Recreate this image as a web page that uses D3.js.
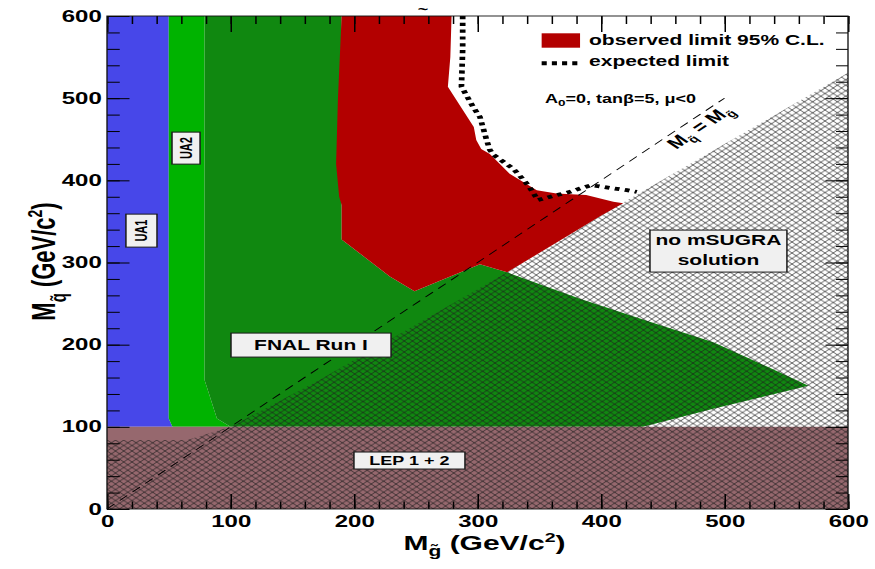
<!DOCTYPE html>
<html>
<head>
<meta charset="utf-8">
<script src="https://cdn.jsdelivr.net/npm/d3@7"></script>
<style>
  html, body { margin: 0; padding: 0; background: #fff; }
  svg { display: block; }
  text { font-family: "Liberation Sans", Arial, Helvetica, sans-serif; font-weight: bold; fill: #000; }
</style>
</head>
<body>
<svg id="chart" width="875" height="569"></svg>
<script>
// ---- axis ticks (GeV/c^2) ----
const xMajorTicks = [0, 100, 200, 300, 400, 500, 600];
const yMajorTicks = [0, 100, 200, 300, 400, 500, 600];
const minorTicks = [0,20,40,60,80,100,120,140,160,180,200,220,240,260,280,300,320,340,360,380,400,420,440,460,480,500,520,540,560,580,600];

// ---- excluded regions, [gluino mass, squark mass] ----
const ua1Region = [[0,600],[50,600],[50,110],[53,100],[0,100]];
const ua2Region = [[50,600],[79,600],[79,157],[89,110],[100,100],[53,100],[50,110]];
const fnalRegion = [[79,600],[190,600],[190,328],[229,283],[249,265],[302,298],[324,288],[383,256],
                    [437,229],[491,203],[545,166],[568,150],[491,122],[434,100],[100,100],[89,110],[79,157]];
const observedRegion = [[190,600],[279,600],[278,550],[276,514],[297,465],[299,449],[303,438],[310,432],
                        [326,408],[337,398],[348,388],[364,384],[388,382],[410,374],[418,372],
                        [399,356],[324,288],[302,298],[249,265],[229,283],[190,328],[190,370],
                        [188,380],[185.5,420],[187,500]];
const lepRegion = [[0,0],[0,100],[600,100],[600,0]];
const noSolutionRegion = [[0,0],[0,84],[65,84],[100,100],[172,157],[324,288],[399,356],[417,372],[600,531],[600,0]];

// ---- expected limit contour ----
const expectedLimit = [[288,600],[288,560],[287,514],[296.6,489],[302,477],[307.4,449],[310,437],
                       [313,431],[321,422.5],[329,414],[334,406],[341,394],[349,376],[359,380],
                       [367,383],[375,386],[383,390],[392,394],[402,392],[411,390],[421,388],[429,386]];

// ---- equal-mass diagonal ----
const equalMassLine = [[0,0],[500,500]];

// ---- layout ----
const STRETCH = 1.5;   // the whole plot is drawn 1.5x wide
const svg = d3.select("#chart");
const root = svg.append("g").attr("transform", `scale(${STRETCH},1)`);

const x = d3.scaleLinear().domain([0, 600]).range([107 / STRETCH, 848 / STRETCH]);
const y = d3.scaleLinear().domain([0, 600]).range([509, 16]);

const line = d3.line().x(d => x(d[0])).y(d => y(d[1]));
const area = pts => line(pts) + "Z";

// cross-hatch fill
const defs = svg.append("defs");
const hatch = defs.append("pattern")
  .attr("id", "xhatch").attr("patternUnits", "userSpaceOnUse")
  .attr("width", 5.5).attr("height", 5.5);
hatch.append("path")
  .attr("d", "M-1,-1L6.5,6.5M6.5,-1L-1,6.5")
  .attr("stroke", "#1c1c1c").attr("stroke-width", 0.55).attr("fill", "none");

// regions
root.append("path").attr("d", area(ua1Region)).attr("fill", "#4747e9");
root.append("path").attr("d", area(ua2Region)).attr("fill", "#00b300");
root.append("path").attr("d", area(fnalRegion)).attr("fill", "#108810");
root.append("path").attr("d", area(observedRegion)).attr("fill", "#b30000");
root.append("path").attr("d", area(lepRegion)).attr("fill", "#96686e");
root.append("path").attr("d", area(noSolutionRegion)).attr("fill", "url(#xhatch)");

// M_squark = M_gluino
root.append("path").attr("d", line(equalMassLine))
  .attr("fill", "none").attr("stroke", "#000").attr("stroke-width", 0.8)
  .attr("stroke-dasharray", "7,5");

// expected limit
root.append("path").attr("d", line(expectedLimit))
  .attr("fill", "none").attr("stroke", "#000").attr("stroke-width", 3.8)
  .attr("stroke-dasharray", "3.2,3.6");

// axes: major + minor ticks on all four sides, pointing inward
function styleAxis(g) {
  g.select(".domain").remove();
  g.selectAll("line").attr("stroke", "#000").attr("stroke-width", 1);
  g.attr("font-family", null).attr("font-size", 16);
}
root.append("g").attr("transform", `translate(0,${y(0)})`)
  .call(d3.axisBottom(x).tickValues(minorTicks).tickSize(-7.5).tickFormat("")).call(styleAxis);
root.append("g").attr("transform", `translate(0,${y(0)})`)
  .call(d3.axisBottom(x).tickValues(xMajorTicks).tickSize(-15).tickPadding(7).tickFormat(d3.format("d"))).call(styleAxis);
root.append("g").attr("transform", `translate(0,${y(600)})`)
  .call(d3.axisTop(x).tickValues(minorTicks).tickSize(-8).tickFormat("")).call(styleAxis);
root.append("g").attr("transform", `translate(0,${y(600)})`)
  .call(d3.axisTop(x).tickValues(xMajorTicks).tickSize(-16).tickFormat("")).call(styleAxis);
root.append("g").attr("transform", `translate(${x(0)},0)`)
  .call(d3.axisLeft(y).tickValues(minorTicks).tickSize(-8.5).tickFormat("")).call(styleAxis);
root.append("g").attr("transform", `translate(${x(0)},0)`)
  .call(d3.axisLeft(y).tickValues(yMajorTicks).tickSize(-15).tickPadding(3.5).tickFormat(d3.format("d"))).call(styleAxis);
root.append("g").attr("transform", `translate(${x(600)},0)`)
  .call(d3.axisRight(y).tickValues(minorTicks).tickSize(-8).tickFormat("")).call(styleAxis);
root.append("g").attr("transform", `translate(${x(600)},0)`)
  .call(d3.axisRight(y).tickValues(yMajorTicks).tickSize(-15).tickFormat("")).call(styleAxis);

// frame
root.append("rect")
  .attr("x", x(0)).attr("y", y(600))
  .attr("width", x(600) - x(0)).attr("height", y(0) - y(600))
  .attr("fill", "none").attr("stroke", "#111").attr("stroke-width", 0.9);

// axis titles
const xTitle = root.append("text")
  .attr("x", 323).attr("y", 550).attr("text-anchor", "middle").attr("font-size", 20);
xTitle.append("tspan").text("M");
xTitle.append("tspan").attr("font-size", 14).attr("dy", 6).text("g\u0303");
xTitle.append("tspan").attr("dy", -6).text(" (GeV/c");
xTitle.append("tspan").attr("font-size", 13).attr("dy", -8).text("2");
xTitle.append("tspan").attr("dy", 8).text(")");

const yTitle = root.append("text")
  .attr("transform", "translate(36.7,261.5) rotate(-90)")
  .attr("text-anchor", "middle").attr("font-size", 22);
yTitle.append("tspan").text("M");
yTitle.append("tspan").attr("font-size", 15).attr("dy", 7).text("q\u0303");
yTitle.append("tspan").attr("dy", -7).text(" (GeV/c");
yTitle.append("tspan").attr("font-size", 14).attr("dy", -9).text("2");
yTitle.append("tspan").attr("dy", 9).text(")");

// remnant of the title above the frame
root.append("text").attr("x", 282).attr("y", 14).attr("text-anchor", "middle")
  .attr("font-size", 12).text("~");

// labelled boxes
function pave(cx, cy, w, h) {
  root.append("rect")
    .attr("x", x(cx) - w / 2).attr("y", y(cy) - h / 2)
    .attr("width", w).attr("height", h)
    .attr("fill", "#f0f0f0").attr("stroke", "#1a1a1a").attr("stroke-width", 1);
}
function rotatedLabel(cx, cy, w, h, txt, size) {
  pave(cx, cy, w, h);
  root.append("text")
    .attr("transform", `translate(${x(cx)},${y(cy)}) rotate(-90)`)
    .attr("text-anchor", "middle").attr("dy", "0.36em")
    .attr("font-size", size).text(txt);
}
rotatedLabel(27.9, 338.8, 20.7, 33, "UA1", 11);
rotatedLabel(64, 439.2, 18.7, 32, "UA2", 11);

pave(165.2, 199.5, 106.7, 24);
root.append("text").attr("x", x(165.2)).attr("y", y(199.5)).attr("dy", 5)
  .attr("text-anchor", "middle").attr("font-size", 14).text("FNAL Run I");

pave(244.9, 59, 74, 17);
root.append("text").attr("x", x(244.9)).attr("y", y(59)).attr("dy", 4.3)
  .attr("text-anchor", "middle").attr("font-size", 12).text("LEP 1 + 2");

pave(495.1, 313.9, 91.3, 42);
root.append("text").attr("x", x(495.1)).attr("y", y(313.9)).attr("dy", -6)
  .attr("text-anchor", "middle").attr("font-size", 14).text("no mSUGRA");
root.append("text").attr("x", x(495.1)).attr("y", y(313.9)).attr("dy", 14)
  .attr("text-anchor", "middle").attr("font-size", 14).text("solution");

// diagonal label
const diagLabel = root.append("text")
  .attr("transform", `translate(${x(480)},${y(465)}) rotate(-45)`)
  .attr("text-anchor", "middle").attr("dy", 5).attr("font-size", 15);
diagLabel.append("tspan").text("M");
diagLabel.append("tspan").attr("font-size", 10).attr("dy", 4).text("q\u0303");
diagLabel.append("tspan").attr("dy", -4).text(" = M");
diagLabel.append("tspan").attr("font-size", 10).attr("dy", 4).text("g\u0303");

// model parameters
const params = root.append("text")
  .attr("x", x(354.7)).attr("y", y(493.6)).attr("font-size", 12);
params.append("tspan").text("A");
params.append("tspan").attr("font-size", 9).attr("dy", 3).text("0");
params.append("tspan").attr("dy", -3).text("=0, tan\u03b2=5, \u03bc<0");

// legend
root.append("rect").attr("x", 361.1).attr("y", 33.3).attr("width", 25.6).attr("height", 14.4)
  .attr("fill", "#b30000");
root.append("text").attr("x", 392.7).attr("y", 45).attr("font-size", 14).text("observed limit 95% C.L.");
root.append("line").attr("x1", 361.1).attr("x2", 386.7).attr("y1", 63.3).attr("y2", 63.3)
  .attr("stroke", "#000").attr("stroke-width", 4).attr("stroke-dasharray", "3.4,3.4");
root.append("text").attr("x", 392.7).attr("y", 65.7).attr("font-size", 14).text("expected limit");
</script>
</body>
</html>
